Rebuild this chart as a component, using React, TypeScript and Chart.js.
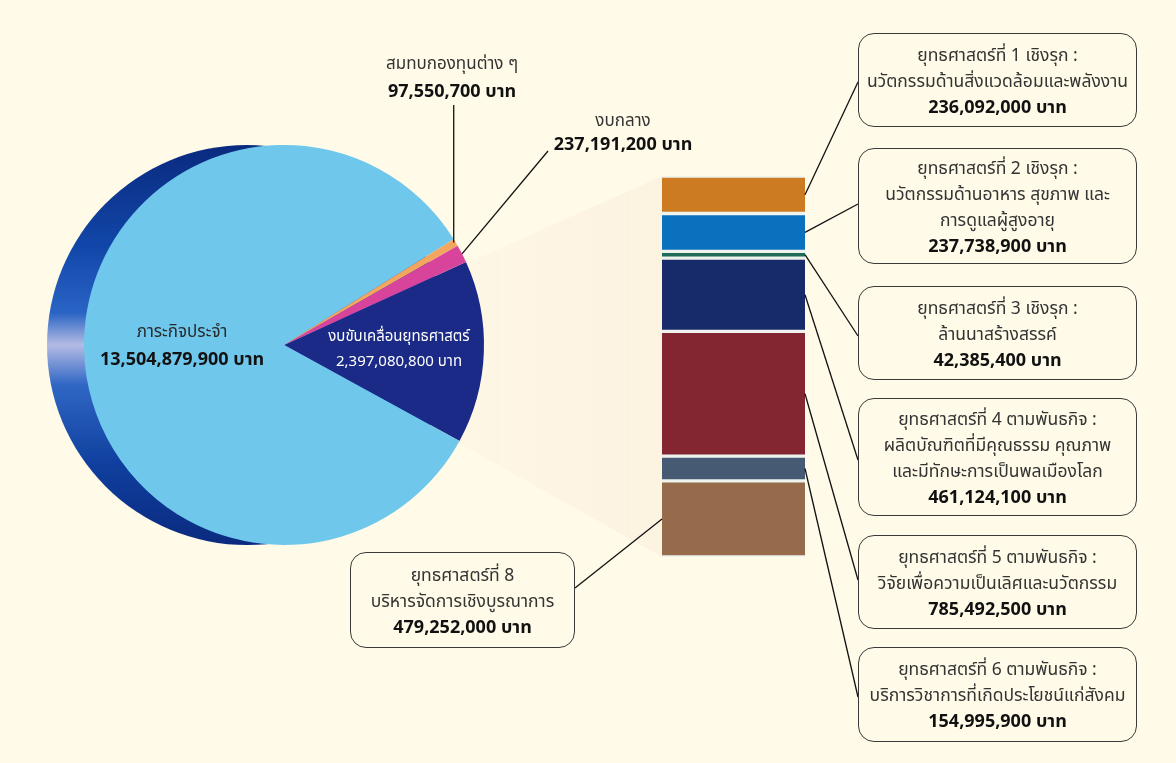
import React, { useEffect, useRef } from "react";
import { Chart, registerables } from "chart.js";

Chart.register(...registerables);

// ---------- data ----------
const PIE_LABELS = ["งบขับเคลื่อนยุทธศาสตร์", "ภาระกิจประจำ", "สมทบกองทุนต่าง ๆ", "งบกลาง"];
const PIE_VALUES = [2397080800, 13504879900, 97550700, 237191200];
const PIE_COLORS = ["#1b2a86", "#6fc7ec", "#f2a65e", "#d8449b"];

const STRAT_TITLES = [
  "ยุทธศาสตร์ที่ 1 เชิงรุก :",
  "ยุทธศาสตร์ที่ 2 เชิงรุก :",
  "ยุทธศาสตร์ที่ 3 เชิงรุก :",
  "ยุทธศาสตร์ที่ 4 ตามพันธกิจ :",
  "ยุทธศาสตร์ที่ 5 ตามพันธกิจ :",
  "ยุทธศาสตร์ที่ 6 ตามพันธกิจ :",
  "ยุทธศาสตร์ที่ 8",
];
const STRAT_NAMES = [
  ["นวัตกรรมด้านสิ่งแวดล้อมและพลังงาน"],
  ["นวัตกรรมด้านอาหาร สุขภาพ และ", "การดูแลผู้สูงอายุ"],
  ["ล้านนาสร้างสรรค์"],
  ["ผลิตบัณฑิตที่มีคุณธรรม คุณภาพ", "และมีทักษะการเป็นพลเมืองโลก"],
  ["วิจัยเพื่อความเป็นเลิศและนวัตกรรม"],
  ["บริการวิชาการที่เกิดประโยชน์แก่สังคม"],
  ["บริหารจัดการเชิงบูรณาการ"],
];
const STRAT_VALUES = [236092000, 237738900, 42385400, 461124100, 785492500, 154995900, 479252000];
const STRAT_COLORS = ["#cd7b22", "#0b71bf", "#1e6b57", "#172a6a", "#842631", "#465b73", "#966b4c"];

// ---------- layout ----------
const W = 1176;
const H = 763;
const BG = "#fffbe8";
const FONT = 'Tahoma, "Noto Sans Thai", "Noto Sans", "DejaVu Sans", sans-serif';
// boxes: x, y, w, h, anchor x, anchor y, side of bar ("r" right edge, "l" left edge)
const BOXES = [
  { x: 858, y: 33, w: 279, h: 94, ax: 858, ay: 82, side: "r" },
  { x: 858, y: 148, w: 279, h: 116, ax: 858, ay: 204, side: "r" },
  { x: 858, y: 286, w: 279, h: 94, ax: 858, ay: 336, side: "r" },
  { x: 858, y: 398, w: 279, h: 118, ax: 858, ay: 460, side: "r" },
  { x: 858, y: 535, w: 279, h: 94, ax: 858, ay: 580, side: "r" },
  { x: 858, y: 647, w: 279, h: 95, ax: 858, ay: 697, side: "r" },
  { x: 350, y: 552, w: 225, h: 96, ax: 575, ay: 588, side: "l" },
];

const fmt = (v: number) => v.toLocaleString("en-US") + " บาท";

export default function App() {
  const pieRef = useRef<HTMLCanvasElement | null>(null);
  const barRef = useRef<HTMLCanvasElement | null>(null);

  useEffect(() => {
    const total = STRAT_VALUES.reduce((a, b) => a + b, 0);
    const order = STRAT_VALUES.map((_, i) => i).reverse();

    const barConnectors = {
      id: "barConnectors",
      afterDraw(chart: any) {
        const ctx = chart.ctx;
        ctx.save();
        ctx.strokeStyle = "#111";
        ctx.lineWidth = 1.3;
        chart.data.datasets.forEach((ds: any, di: number) => {
          const idx = ds.stratIndex;
          const el = chart.getDatasetMeta(di).data[0];
          const p = el.getProps(["x", "y", "base", "width"], true);
          const cy = (p.y + p.base) / 2;
          const b = BOXES[idx];
          const sx = b.side === "r" ? p.x + p.width / 2 : p.x - p.width / 2;
          ctx.beginPath();
          ctx.moveTo(sx, cy);
          ctx.lineTo(b.ax, b.ay);
          ctx.stroke();
        });
        ctx.restore();
      },
    };

    const bar = new Chart(barRef.current!, {
      type: "bar",
      data: {
        labels: ["ยุทธศาสตร์"],
        datasets: order.map((i) => ({
          label: STRAT_TITLES[i],
          data: [STRAT_VALUES[i]],
          backgroundColor: STRAT_COLORS[i],
          borderColor: "#eef3ee",
          borderWidth: { top: 2, bottom: 2, left: 0, right: 0 },
          borderSkipped: false,
          barPercentage: 1,
          categoryPercentage: 1,
          stratIndex: i,
        })) as any,
      },
      options: {
        responsive: false,
        animation: false,
        layout: { padding: { left: 662, right: W - 805, top: 176, bottom: H - 557 } },
        scales: {
          x: { display: false, stacked: true },
          y: { display: false, stacked: true, min: 0, max: total },
        },
        plugins: { legend: { display: false }, tooltip: { enabled: false } },
      },
      plugins: [barConnectors],
    });

    const pieDecor = {
      id: "pieDecor",
      beforeDatasetsDraw(chart: any) {
        const ctx = chart.ctx;
        const el = chart.getDatasetMeta(0).data[0];
        const cx = el.x, cy = el.y, r = el.outerRadius;
        const ba = bar.chartArea;
        // connecting shade to bar
        ctx.save();
        const g = ctx.createLinearGradient(cx + r * 0.9, 0, ba.left, 0);
        g.addColorStop(0, "rgba(248,228,214,0.15)");
        g.addColorStop(1, "rgba(250,232,216,0.45)");
        ctx.fillStyle = g;
        ctx.beginPath();
        ctx.moveTo(cx, cy);
        ctx.lineTo(ba.left, ba.top);
        ctx.lineTo(ba.left, ba.bottom);
        ctx.closePath();
        ctx.fill();
        // 3D rim
        const off = 37;
        const rg = ctx.createLinearGradient(0, cy - r, 0, cy + r);
        rg.addColorStop(0, "#0a2a7e");
        rg.addColorStop(0.25, "#1146a8");
        rg.addColorStop(0.42, "#2a64c4");
        rg.addColorStop(0.5, "#b4bbe4");
        rg.addColorStop(0.6, "#2f66c4");
        rg.addColorStop(0.8, "#0f3f9e");
        rg.addColorStop(1, "#0a2a7e");
        ctx.fillStyle = rg;
        ctx.beginPath();
        ctx.arc(cx - off, cy, r, 0, Math.PI * 2);
        ctx.fill();
        ctx.restore();
      },
      afterDraw(chart: any) {
        const ctx = chart.ctx;
        const meta = chart.getDatasetMeta(0);
        const pt = (i: number) => {
          const e = meta.data[i];
          const a = (e.startAngle + e.endAngle) / 2;
          return { x: e.x + e.outerRadius * Math.cos(a), y: e.y + e.outerRadius * Math.sin(a) };
        };
        ctx.save();
        ctx.strokeStyle = "#111";
        ctx.lineWidth = 1.3;
        const po = pt(2);
        ctx.beginPath();
        ctx.moveTo(po.x - 2, 105);
        ctx.lineTo(po.x - 2, po.y);
        ctx.stroke();
        const pp = pt(3);
        ctx.beginPath();
        ctx.moveTo(548, 151);
        ctx.lineTo(pp.x, pp.y);
        ctx.stroke();
        ctx.restore();
      },
    };

    const pie = new Chart(pieRef.current!, {
      type: "pie",
      data: {
        labels: PIE_LABELS,
        datasets: [{ data: PIE_VALUES, backgroundColor: PIE_COLORS, borderWidth: 0 }],
      },
      options: {
        responsive: false,
        animation: false,
        rotation: 65.5,
        layout: { padding: { left: 84, top: 145, right: W - 484, bottom: H - 545 } },
        plugins: { legend: { display: false }, tooltip: { enabled: false } },
      },
      plugins: [pieDecor],
    });

    return () => {
      pie.destroy();
      bar.destroy();
    };
  }, []);

  const txt: React.CSSProperties = { position: "absolute", textAlign: "center", fontFamily: FONT, whiteSpace: "nowrap" };
  const num: React.CSSProperties = { fontWeight: "bold", color: "#111", fontSize: 18 };

  return (
    <div style={{ position: "fixed", left: 0, top: 0, width: W, height: H, background: BG, overflow: "hidden" }}>
      <canvas ref={pieRef} width={W} height={H} style={{ position: "absolute", left: 0, top: 0 }} />
      <canvas ref={barRef} width={W} height={H} style={{ position: "absolute", left: 0, top: 0 }} />

      {/* pie labels */}
      <div style={{ ...txt, left: 32, width: 300, top: 319, fontSize: 17, lineHeight: "27px", color: "#2a2a2a" }}>
        <div>{PIE_LABELS[1]}</div>
        <div style={num}>{fmt(PIE_VALUES[1])}</div>
      </div>
      <div style={{ ...txt, left: 249, width: 300, top: 324, fontSize: 15, lineHeight: "25px", color: "#fff" }}>
        <div>{PIE_LABELS[0]}</div>
        <div>{fmt(PIE_VALUES[0])}</div>
      </div>
      <div style={{ ...txt, left: 302, width: 300, top: 51, fontSize: 17, lineHeight: "27px", color: "#333" }}>
        <div>{PIE_LABELS[2]}</div>
        <div style={num}>{fmt(PIE_VALUES[2])}</div>
      </div>
      <div style={{ ...txt, left: 473, width: 300, top: 109, fontSize: 17, lineHeight: "24px", color: "#333" }}>
        <div>{PIE_LABELS[3]}</div>
        <div style={num}>{fmt(PIE_VALUES[3])}</div>
      </div>

      {/* strategy boxes */}
      {BOXES.map((b, i) => (
        <div
          key={i}
          style={{
            position: "absolute",
            left: b.x,
            top: b.y,
            width: b.w,
            height: b.h,
            boxSizing: "border-box",
            border: "1.5px solid #3a3a3a",
            borderRadius: 16,
            display: "flex",
            flexDirection: "column",
            justifyContent: "center",
            alignItems: "center",
            fontFamily: FONT,
            fontSize: 17.5,
            lineHeight: "26px",
            color: "#333",
            whiteSpace: "nowrap",
            paddingTop: 3,
          }}
        >
          <div>{STRAT_TITLES[i]}</div>
          {STRAT_NAMES[i].map((n, k) => (
            <div key={k}>{n}</div>
          ))}
          <div style={num}>{fmt(STRAT_VALUES[i])}</div>
        </div>
      ))}
    </div>
  );
}
